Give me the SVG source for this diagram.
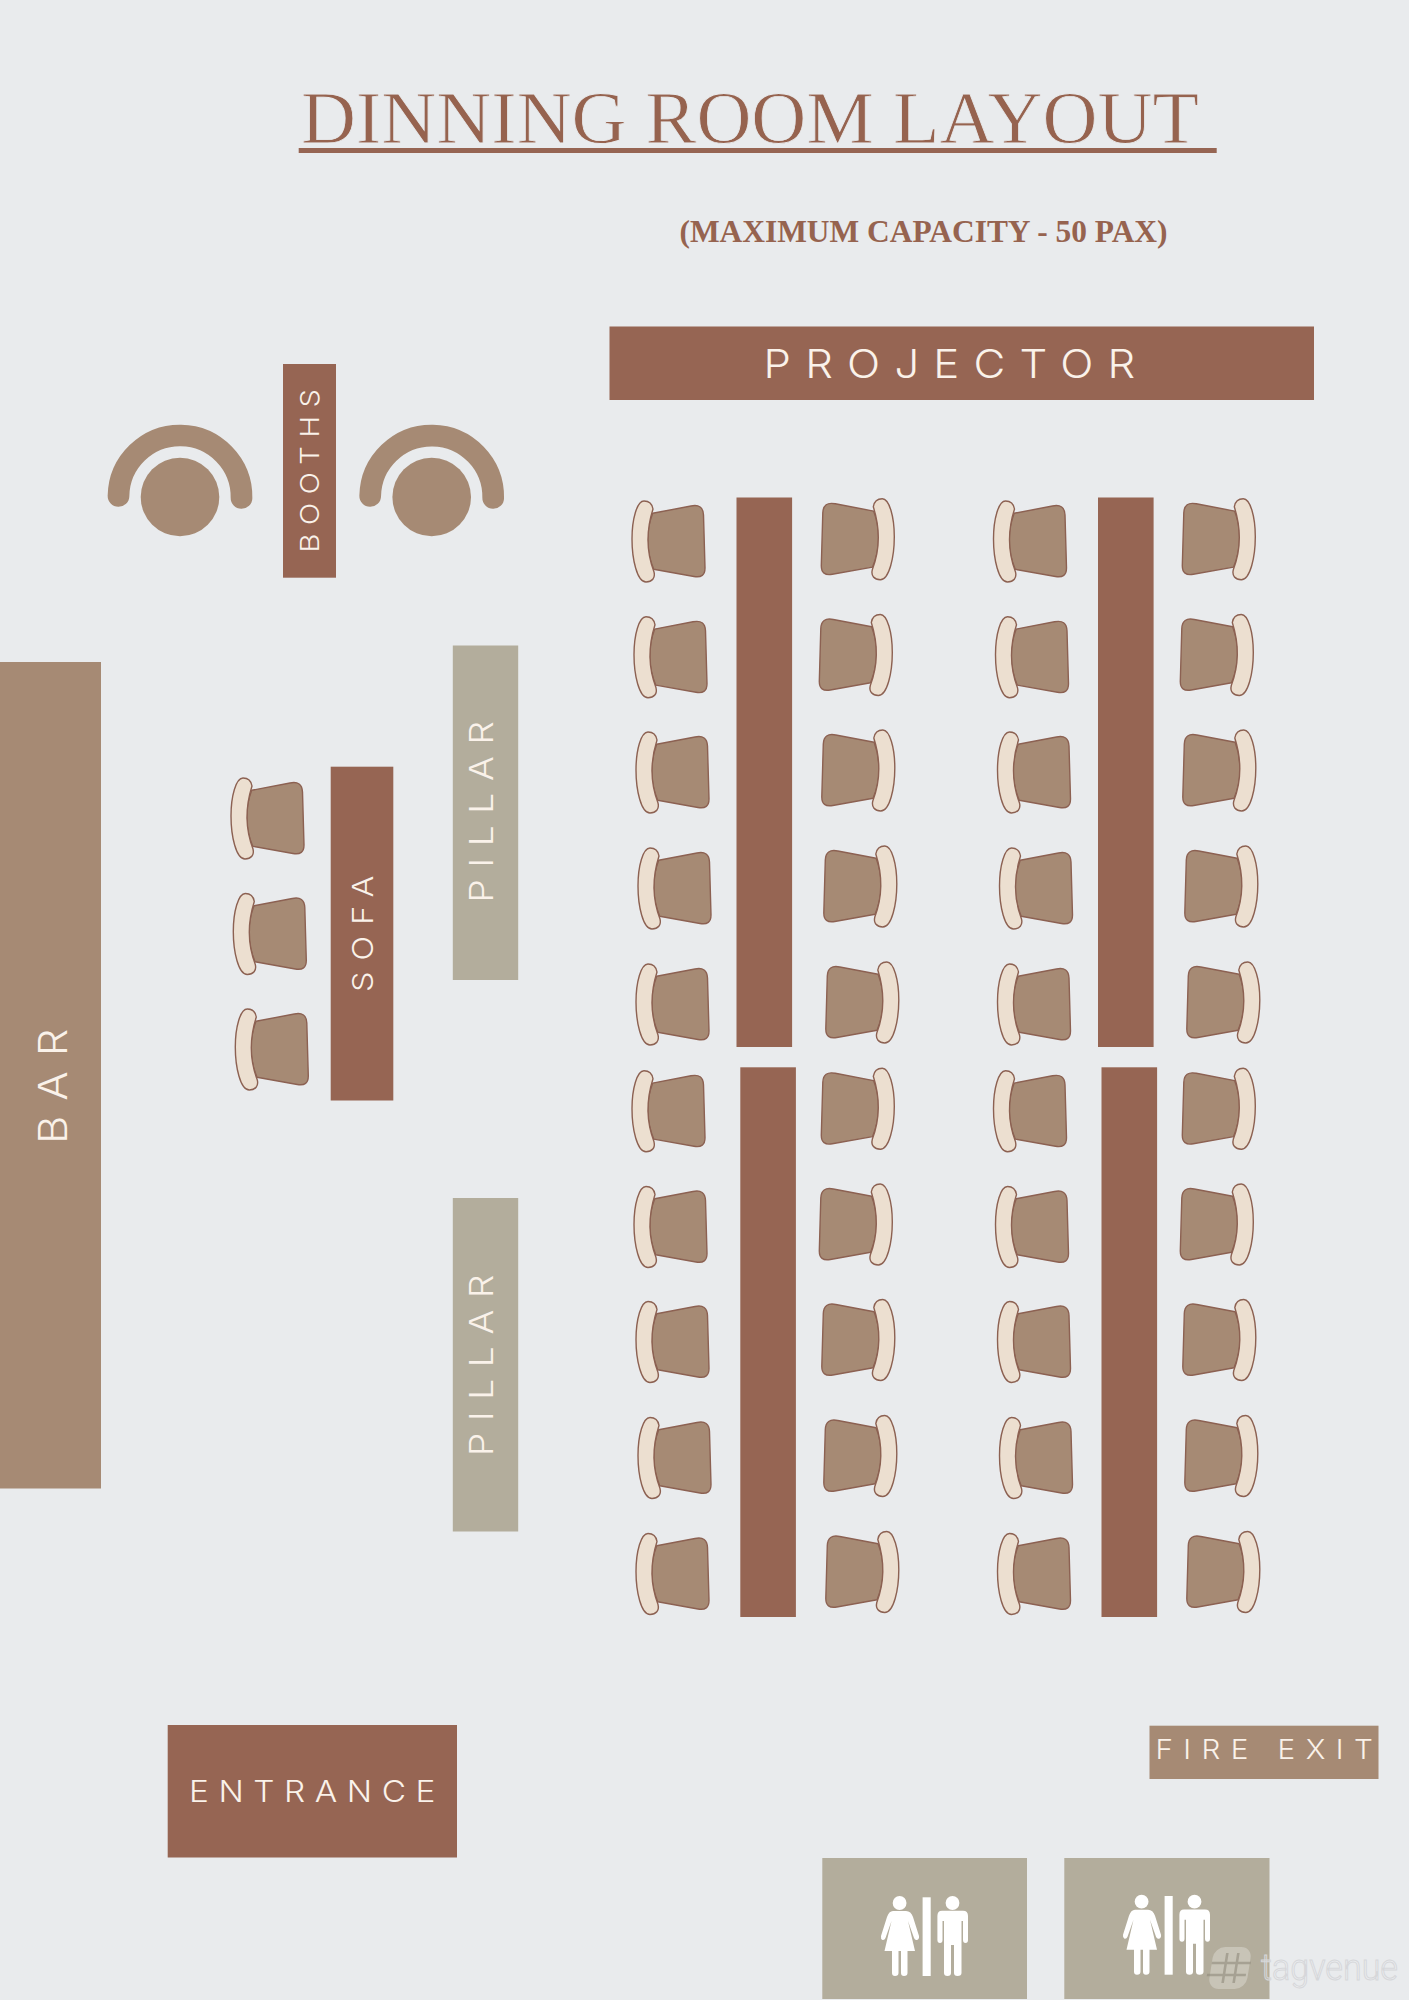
<svg xmlns="http://www.w3.org/2000/svg" width="1409" height="2000" viewBox="0 0 1409 2000">
<style>
.brown{fill:#966553}
.tan{fill:#a68a74}
.grey{fill:#b3ad9c}
.lbl{font-family:Inter,"Liberation Sans",sans-serif;font-weight:300;fill:#faf2ea}
.seat{fill:#a68a74;stroke:#8c6152;stroke-width:1.4;stroke-linejoin:round}
.back{fill:#ecdfd0;stroke:#8c6152;stroke-width:1.4;stroke-linejoin:round}
.arc{fill:none;stroke:#a68a74;stroke-width:21.7;stroke-linecap:round}
</style>
<defs>
<g id="chair">
<path class="seat" d="M20.7,12.3 L59,5 Q71,2.5 71.5,14 L73,67 Q73,77.5 62,75.5 L21.7,68.3 Q10,40 20.7,12.3Z"/>
<path class="back" d="M21,8 C20,2 16,0 12,0 C5,0 0,18 0,38 C0,58 5,81 14,81 C20,81 23.5,77 22,71 C14,50 14,30 21,8Z"/>
</g>
<g id="wc" fill="#fff">
<circle cx="899.6" cy="1903" r="6.9"/>
<path d="M893,1911 H906 Q911,1911 913,1917 L919,1936 Q919.5,1939 917,1940 Q915,1940.5 914,1938 L908,1921 L915,1951 H907.5 V1973 Q907.5,1976 904,1976 Q901,1976 901,1973 V1951 H898.5 V1973 Q898.5,1976 895,1976 Q892,1976 892,1973 V1951 H884.5 L891.5,1921 L885.5,1938 Q884.5,1940.5 882.5,1940 Q880.5,1939 881,1936 L887,1917 Q889,1911 893,1911Z"/>
<rect x="922.6" y="1897.3" width="8.1" height="78.7"/>
<circle cx="952.5" cy="1903" r="6.9"/>
<path d="M942,1910.7 H963 Q968,1910.7 968,1916 V1940 Q968,1943 965.5,1943 Q963,1943 963,1940 V1921 H961.5 V1973 Q961.5,1976 957.5,1976 Q954,1976 954,1973 V1945 H951 V1973 Q951,1976 947.5,1976 Q944,1976 944,1973 V1921 H942.5 V1940 Q942.5,1943 940,1943 Q937.4,1943 937.4,1940 V1916 Q937.4,1910.7 942,1910.7Z"/>
</g>
</defs>
<rect width="1409" height="2000" fill="#e9ebed"/>
<g id="title">
<text x="301" y="143" font-family="'Liberation Serif',serif" font-size="75" fill="#96634f" stroke="#e9ebed" stroke-width="0.8" textLength="898" lengthAdjust="spacingAndGlyphs">DINNING ROOM LAYOUT</text>
<rect x="298.7" y="148" width="918" height="5" class="brown"/>
</g>
<g id="subtitle">
<text x="679.5" y="241.7" font-family="'Liberation Serif',serif" font-weight="700" font-size="31" fill="#96634f" textLength="488" lengthAdjust="spacingAndGlyphs">(MAXIMUM CAPACITY - 50 PAX)</text>
</g>
<g id="projector">
<rect x="609.5" y="326.5" width="704.5" height="73.5" class="brown"/>
<text class="lbl" transform="translate(763.5,377.8) scale(1.12,1)" font-size="39" textLength="332">PROJECTOR</text>
</g>
<g id="booths">
<rect x="283" y="364" width="53" height="213.7" class="brown"/>
<text class="lbl" transform="translate(319,552.5) rotate(-90) scale(1.12,1)" font-size="26" textLength="146">BOOTHS</text>
</g>
<g id="booth-left" class="tan">
<path class="arc" d="M118.5,496 A61.5,61.5 0 0 1 241.5,498"/>
<circle cx="180" cy="497" r="39.3"/>
</g>
<g id="booth-right" class="tan">
<path class="arc" d="M370.2,496 A61.5,61.5 0 0 1 493.2,498"/>
<circle cx="431.7" cy="497" r="39.3"/>
</g>
<g id="bar">
<rect x="0" y="662" width="101" height="826.5" class="tan"/>
<text class="lbl" transform="translate(67,1144) rotate(-90) scale(1.12,1)" font-size="39" textLength="103">BAR</text>
</g>
<g id="sofa">
<rect x="330.7" y="766.7" width="62.6" height="333.8" class="brown"/>
<text class="lbl" transform="translate(373.3,992) rotate(-90) scale(1.12,1)" font-size="29" textLength="104">SOFA</text>
<use href="#chair" x="231" y="778"/>
<use href="#chair" x="233.3" y="893.5"/>
<use href="#chair" x="235.3" y="1009"/>
</g>
<g id="pillar-1">
<rect x="452.8" y="645.5" width="65.4" height="334.5" class="grey"/>
<text class="lbl" transform="translate(493.3,902.5) rotate(-90) scale(1.12,1)" font-size="33" textLength="162">PILLAR</text>
</g>
<g id="pillar-2">
<rect x="452.8" y="1198" width="65.4" height="333.5" class="grey"/>
<text class="lbl" transform="translate(493.3,1456) rotate(-90) scale(1.12,1)" font-size="33" textLength="162">PILLAR</text>
</g>
<g id="table-1">
<rect x="736.5" y="497.5" width="55.6" height="549.5" class="brown"/>
<use href="#chair" x="632" y="501"/><use href="#chair" x="634" y="616.8"/><use href="#chair" x="636" y="732"/><use href="#chair" x="638" y="848"/><use href="#chair" x="636" y="964"/>
<use href="#chair" transform="translate(894.3,498.8) scale(-1,1)"/><use href="#chair" transform="translate(892.3,614.5) scale(-1,1)"/><use href="#chair" transform="translate(894.8,730) scale(-1,1)"/><use href="#chair" transform="translate(896.8,846) scale(-1,1)"/><use href="#chair" transform="translate(898.8,962) scale(-1,1)"/>
</g>
<g id="table-2">
<rect x="1098" y="497.5" width="55.6" height="549.5" class="brown"/>
<use href="#chair" x="993.5" y="501"/><use href="#chair" x="995.5" y="616.8"/><use href="#chair" x="997.5" y="732"/><use href="#chair" x="999.5" y="848"/><use href="#chair" x="997.5" y="964"/>
<use href="#chair" transform="translate(1255.3,498.8) scale(-1,1)"/><use href="#chair" transform="translate(1253.3,614.5) scale(-1,1)"/><use href="#chair" transform="translate(1255.8,730) scale(-1,1)"/><use href="#chair" transform="translate(1257.8,846) scale(-1,1)"/><use href="#chair" transform="translate(1259.8,962) scale(-1,1)"/>
</g>
<g id="table-3">
<rect x="740.3" y="1067.3" width="55.6" height="549.7" class="brown"/>
<use href="#chair" x="632" y="1070.8"/><use href="#chair" x="634" y="1186.5"/><use href="#chair" x="636" y="1301.5"/><use href="#chair" x="638" y="1417.5"/><use href="#chair" x="636" y="1533.5"/>
<use href="#chair" transform="translate(894.3,1068.3) scale(-1,1)"/><use href="#chair" transform="translate(892.3,1184) scale(-1,1)"/><use href="#chair" transform="translate(894.8,1299.5) scale(-1,1)"/><use href="#chair" transform="translate(896.8,1415.5) scale(-1,1)"/><use href="#chair" transform="translate(898.8,1531.5) scale(-1,1)"/>
</g>
<g id="table-4">
<rect x="1101.5" y="1067.3" width="55.6" height="549.7" class="brown"/>
<use href="#chair" x="993.5" y="1070.8"/><use href="#chair" x="995.5" y="1186.5"/><use href="#chair" x="997.5" y="1301.5"/><use href="#chair" x="999.5" y="1417.5"/><use href="#chair" x="997.5" y="1533.5"/>
<use href="#chair" transform="translate(1255.3,1068.3) scale(-1,1)"/><use href="#chair" transform="translate(1253.3,1184) scale(-1,1)"/><use href="#chair" transform="translate(1255.8,1299.5) scale(-1,1)"/><use href="#chair" transform="translate(1257.8,1415.5) scale(-1,1)"/><use href="#chair" transform="translate(1259.8,1531.5) scale(-1,1)"/>
</g>
<g id="entrance">
<rect x="167.7" y="1725" width="289.3" height="132.5" class="brown"/>
<text class="lbl" transform="translate(189,1801.7) scale(1.12,1)" font-size="29.8" textLength="220">ENTRANCE</text>
</g>
<g id="fire-exit">
<rect x="1149.5" y="1725.7" width="229" height="53.3" class="tan"/>
<text class="lbl" transform="translate(1155.5,1759.3) scale(1.12,1)" font-size="26.5" textLength="194">FIRE EXIT</text>
</g>
<g id="restroom-1">
<rect x="822.3" y="1858" width="204.7" height="141" class="grey"/>
<use href="#wc"/>
</g>
<g id="restroom-2">
<rect x="1064.3" y="1858" width="205.2" height="141" class="grey"/>
<use href="#wc" transform="translate(242,-1.3)"/>
</g>
<g id="watermark">
<g transform="translate(1230,1968) skewX(-9)">
<rect x="-19" y="-21" width="38" height="42" rx="11" fill="#ffffff" fill-opacity="0.28"/>
<path d="M-5,-15 V15 M6,-15 V15 M-19,-5 H20 M-22,7 H17" stroke="#8f8a7c" stroke-width="2.6" fill="none" opacity="0.6"/>
</g>
<text x="1261" y="1980" font-family="Roboto,'Liberation Sans',sans-serif" font-size="36" font-weight="300" fill="#ffffff" fill-opacity="0.15" stroke="#d6d7da" stroke-width="1" textLength="137" lengthAdjust="spacingAndGlyphs">tagvenue</text>
</g>
</svg>
